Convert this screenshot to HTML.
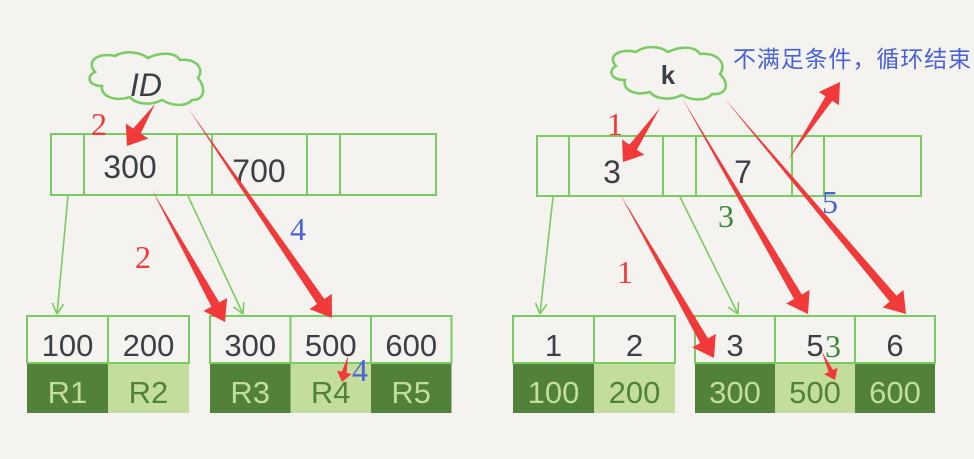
<!DOCTYPE html>
<html><head><meta charset="utf-8"><style>
html,body{margin:0;padding:0;background:#f4f3ef;}
svg{display:block}
.hw{font-family:"Liberation Sans","DejaVu Sans",sans-serif;fill:#3c4046;}
</style></head><body>
<svg id="d" width="974" height="459" viewBox="0 0 974 459" xmlns="http://www.w3.org/2000/svg">
<rect width="974" height="459" fill="#f4f3ef"/>
<path d="M95,72 C85,60 100,52 115,56 C125,50 140,52 148,58 C160,52 175,52 180,60 C195,58 205,68 198,78 C206,88 205,100 192,100 C185,108 170,105 162,100 C150,106 135,104 130,97 C115,102 100,96 102,86 C88,86 86,76 95,72 Z" fill="#f4f3ef" stroke="#7acb62" stroke-width="2.5"/>
<text class="hw" x="146" y="96" font-size="32" text-anchor="middle" font-style="italic">ID</text>
<path d="M616,66 C606,55 622,48 636,52 C645,45 660,46 668,52 C680,46 695,46 700,54 C715,52 728,62 720,74 C730,84 727,95 712,94 C706,102 690,100 682,95 C670,101 655,99 650,92 C635,96 622,90 625,80 C610,80 608,70 616,66 Z" fill="#f4f3ef" stroke="#7acb62" stroke-width="2.5"/>
<text class="hw" x="668" y="84" font-size="26" text-anchor="middle" font-weight="bold">k</text>
<text x="733" y="67" font-size="23" textLength="238" fill="#4a62d8" font-family="'Liberation Sans','Noto Sans CJK SC',sans-serif">不满足条件，循环结束</text>
<g id="nodes"></g>
<g id="arrows"></g>
</svg>
<script>
const NS="http://www.w3.org/2000/svg";
const nodes=document.getElementById('nodes'), arrows=document.getElementById('arrows');
function el(t,a,p){const e=document.createElementNS(NS,t);for(const k in a)e.setAttribute(k,a[k]);(p||nodes).appendChild(e);return e;}
function inner(x0,x1,y0,y1,divs,labels,name){
  const r=el('rect',{x:x0,y:y0,width:x1-x0,height:y1-y0,fill:'none',stroke:'#7acb62','stroke-width':2});
  
  
  divs.forEach(d=>el('line',{x1:d,x2:d,y1:y0,y2:y1,stroke:'#7acb62','stroke-width':2}));
  labels.forEach(l=>{const t=el('text',{x:l[0],y:l[1],'font-size':32,'text-anchor':'middle',class:'hw'});t.textContent=l[2];
    
    });
}
inner(51,436,134,195,[84,177,212,307,340],[[130,178,'300'],[259,182,'700']],'root-node-id');
inner(537,921,136,196,[569,663,696,792,824],[[612,183,'3'],[743,183,'7']],'root-node-k');
function leaf(x0,w,keys,vals,shades,name){
  keys.forEach((k,i)=>{
    const x=x0+i*w;
    const b=el('rect',{x:x,y:364,width:w,height:49,fill:shades[i]?'#52813a':'#c3dd9c'});
    
    
    const t=el('text',{x:x+w/2,y:403,'font-size':31,'text-anchor':'middle','font-family':'Liberation Sans,sans-serif',fill:shades[i]?'#c3dd9c':'#52813a'});t.textContent=vals[i];
    
    
    const c=el('rect',{x:x,y:316,width:w,height:47,fill:'#f4f3ef',stroke:'#7acb62','stroke-width':2});
    
    
    const k2=el('text',{x:x+w/2,y:356,'font-size':31,'text-anchor':'middle',class:'hw'});k2.textContent=k;
    
    
  });
}
leaf(27,81,['100','200'],['R1','R2'],[1,0],'leaf-id-a');
leaf(210,80.5,['300','500','600'],['R3','R4','R5'],[1,0,1],'leaf-id-b');
leaf(513,81,['1','2'],['100','200'],[1,0],'leaf-k-a');
leaf(695,80,['3','5','6'],['300','500','600'],[1,0,1],'leaf-k-b');
function garrow(x1,y1,x2,y2){
  const l=el('line',{x1,y1,x2,y2,stroke:'#7acb62','stroke-width':1.6},arrows);
  
  
  const a=Math.atan2(y2-y1,x2-x1);
  [0.5,-0.5].forEach(s=>el('line',{x1:x2,y1:y2,x2:x2-12*Math.cos(a+s),y2:y2-12*Math.sin(a+s),stroke:'#7acb62','stroke-width':1.6},arrows));
}
garrow(68,196,57,314);garrow(188,196,243,314);garrow(553,197,540,314);garrow(680,197,738,314);
function rarrow(x1,y1,x2,y2,w,h,name){
  const a=Math.atan2(y2-y1,x2-x1);
  const ux=Math.cos(a),uy=Math.sin(a),px=-uy,py=ux;
  const bx=x2-ux*h,by=y2-uy*h;
  const pts=[[x1,y1],[bx+px*w/2,by+py*w/2],[bx+px*w*1.5,by+py*w*1.5],[x2,y2],[bx-px*w*1.5,by-py*w*1.5],[bx-px*w/2,by-py*w/2]];
  const p=el('polygon',{points:pts.map(q=>q.join(',')).join(' '),fill:'#f23a3a'},arrows);
  
  
}
rarrow(155,104,127,146,9,18,'step-2-arrow');
rarrow(188,108,332,318,9,20,'step-4-arrow');
rarrow(152,190,225,322,9,20,'step-2b-arrow');
rarrow(348,356,342,382,5,10,'step-4b-arrow');
rarrow(660,108,623,162,9,18,'step-1-arrow');
rarrow(682,98,808,314,9,20,'step-3-arrow');
rarrow(724,98,906,314,9,20,'step-5-arrow');
rarrow(620,194,714,358,9,20,'step-1b-arrow');
rarrow(788,160,840,82,8,20,'end-arrow');
rarrow(822,352,835,380,5,10,'step-3b-arrow');
function num(x,y,t,c,name){const e=el('text',{x,y,'font-size':32,fill:c,'font-family':'Liberation Serif,serif'},arrows);e.textContent=t;
  
  }
num(91,135,'2','#f23a3a','step-label-2');
num(135,268,'2','#f23a3a','step-label-2b');
num(290,240,'4','#4a62d8','step-label-4');
num(352,381,'4','#4a62d8','step-label-4b');
num(607,135,'1','#f23a3a','step-label-1');
num(617,283,'1','#f23a3a','step-label-1b');
num(718,227,'3','#3a8a3a','step-label-3');
num(822,213,'5','#4a62d8','step-label-5');
num(825,357,'3','#3a8a3a','step-label-3b');
</script>
</body></html>
